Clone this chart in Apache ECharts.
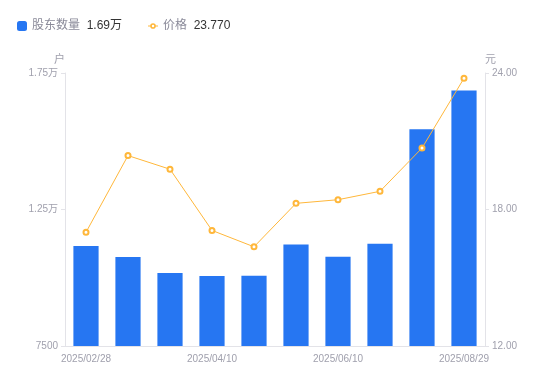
<!DOCTYPE html>
<html><head><meta charset="utf-8">
<script src="https://cdn.jsdelivr.net/npm/echarts@6/dist/echarts.min.js"></script>
<style>html,body{margin:0;padding:0;background:#fff}#c{width:550px;height:381px}</style>
</head><body><div id="c"></div>
<script>
const categories = ['2025/02/28','2025/03/10','2025/03/20','2025/04/10','2025/04/30','2025/05/20','2025/06/10','2025/06/30','2025/07/31','2025/08/29'];
const holders = [11160, 10760, 10170, 10060, 10070, 11220, 10770, 11250, 15440, 16860];
const prices = [17.00, 20.37, 19.77, 17.08, 16.36, 18.27, 18.43, 18.80, 20.70, 23.77];
const leftTicks = [7500, 12500, 17500];
const rightTicks = [12, 18, 24];
const legendValues = {'股东数量': '1.69万', '价格': '23.770'};

const font = '"Liberation Sans", "Noto Sans CJK SC", sans-serif';
const lineIcon = 'path://M0,3.3H3.4V4.7H0Z M8.6,3.3H12V4.7H8.6Z M2.6,4A3.4,3.4 0 1,1 9.4,4A3.4,3.4 0 1,1 2.6,4Z M4.5,4A1.5,1.5 0 1,0 7.5,4A1.5,1.5 0 1,0 4.5,4Z';
const chart = echarts.init(document.getElementById('c'));
chart.setOption({
  animation: false,
  textStyle: {fontFamily: font},
  legend: {
    left: 12, top: 15, itemHeight: 10, itemGap: 26,
    data: [{name: '股东数量', icon: 'roundRect', itemWidth: 10}, {name: '价格', icon: lineIcon, itemWidth: 12, itemHeight: 8}],
    itemWidth: 10,
    formatter: n => '{a|' + n + '}  {b|' + legendValues[n] + '}',
    textStyle: {rich: {a: {color: '#8a8a99', fontSize: 12, fontFamily: font}, b: {color: '#333', fontSize: 12, fontFamily: font}}}
  },
  grid: {left: 65, right: 65, top: 73, bottom: 35},
  xAxis: {
    type: 'category', data: categories,
    axisLine: {lineStyle: {color: '#e3e3e8'}},
    axisTick: {show: false},
    axisLabel: {color: '#a0a0ad', fontSize: 10, interval: 2, margin: 8}
  },
  yAxis: [{
    type: 'value', min: 7500, max: 17500, name: '户',
    nameTextStyle: {color: '#a0a0ad', fontSize: 11, align: 'right'},
    nameGap: 8,
    axisLine: {show: true, lineStyle: {color: '#e3e3e8'}},
    axisTick: {show: true, length: 4, lineStyle: {color: '#e3e3e8'}, customValues: leftTicks},
    splitLine: {show: false},
    axisLabel: {color: '#a0a0ad', fontSize: 10, margin: 7, customValues: leftTicks,
      formatter: v => v >= 10000 ? (v / 10000).toFixed(2) + '万' : String(v)}
  }, {
    type: 'value', min: 12, max: 24, interval: 6, name: '元',
    nameTextStyle: {color: '#a0a0ad', fontSize: 11, align: 'left'},
    nameGap: 8,
    axisLine: {show: true, lineStyle: {color: '#e3e3e8'}},
    axisTick: {show: true, length: 4, lineStyle: {color: '#e3e3e8'}, customValues: rightTicks},
    splitLine: {show: false},
    axisLabel: {color: '#a0a0ad', fontSize: 10, margin: 7, customValues: rightTicks, formatter: v => v.toFixed(2)}
  }],
  series: [{
    name: '股东数量', type: 'bar', data: holders, yAxisIndex: 0, barWidth: '60%',
    itemStyle: {color: '#2676f2'}
  }, {
    name: '价格', type: 'line', data: prices, yAxisIndex: 1,
    symbol: 'emptyCircle', symbolSize: 5,
    lineStyle: {color: '#ffb73a', width: 1},
    itemStyle: {color: '#ffb73a', borderWidth: 2}
  }]
});
</script></body></html>
